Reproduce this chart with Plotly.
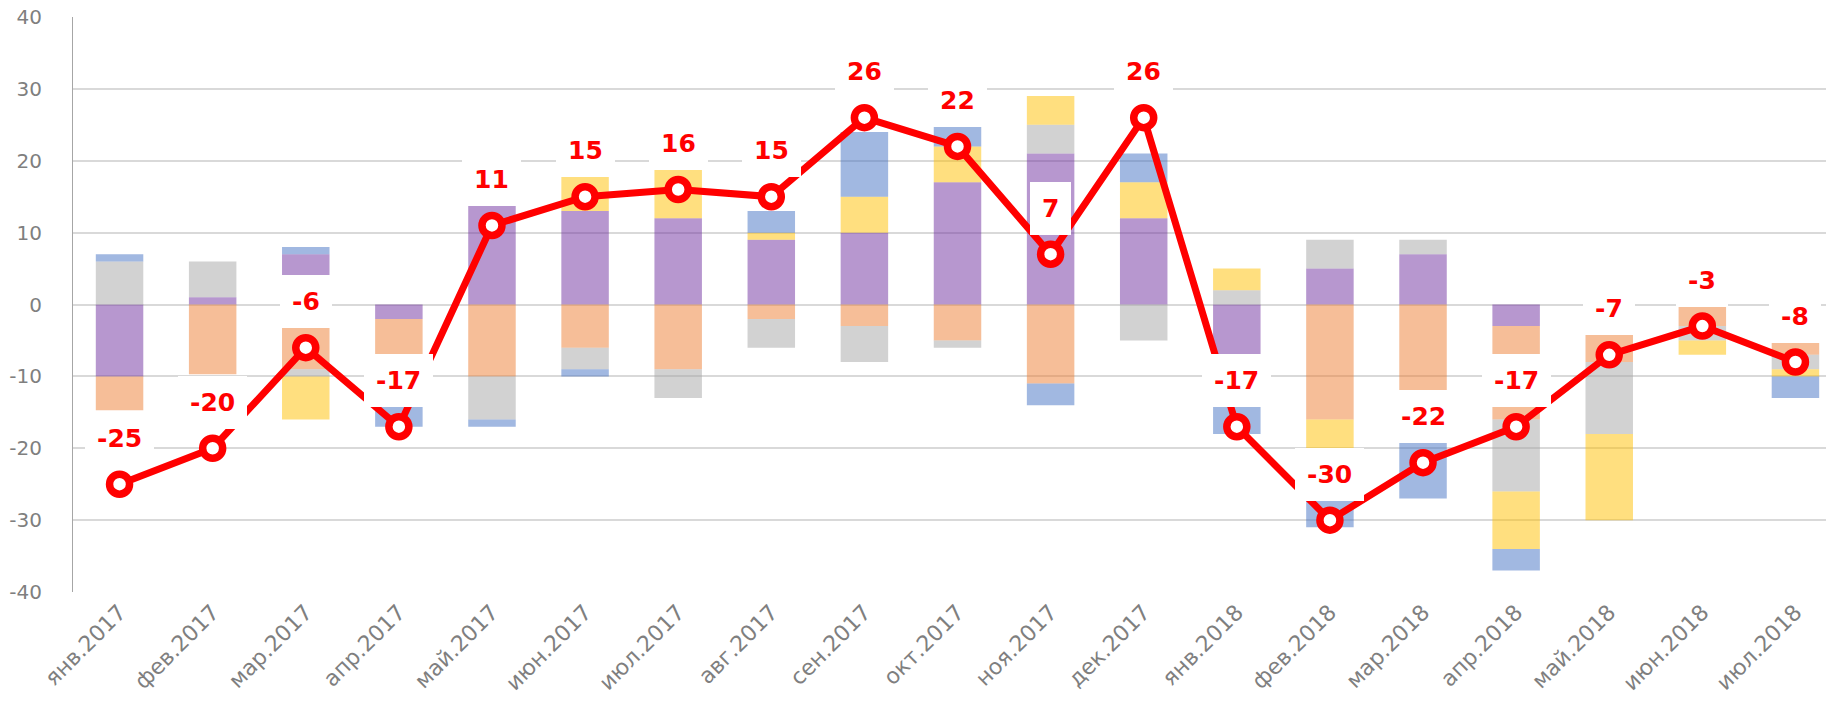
import plotly.graph_objects as go

# категории
months = ['янв.2017', 'фев.2017', 'мар.2017', 'апр.2017', 'май.2017', 'июн.2017',
          'июл.2017', 'авг.2017', 'сен.2017', 'окт.2017', 'ноя.2017', 'дек.2017',
          'янв.2018', 'фев.2018', 'мар.2018', 'апр.2018', 'май.2018', 'июн.2018',
          'июл.2018']

# составляющие (столбцы)
purple = [-10, 1, 7, -2, 14, 13, 12, 9, 10, 17, 21, 12, -8, 5, 7, -3, 0, 0, 1]
orange = [-4.7, -9.7, -9, -5, -10, -6, -9, -2, -3, -5, -11, 0, -6, -16, -12, -13, -8, -3, -7]
gray = [6, 5, -1, -7, -6, -3, -4, -4, -5, -1, 4, -5, 2, 4, 2, -10, -10, -2, -2]
yellow = [0, 0, -6, 0, 0, 5, 7, 1, 5, 5, 4, 5, 3, -6, 0, -8, -12, -2, -1]
blue = [1, 0, 1, -3, -1, -1, 0, 3, 9, 3, -3, 4, -4, -9, -15, -3, 0, 0, -3]

# итоговый индекс (линия)
total = [-25, -20, -6, -17, 11, 15, 16, 15, 26, 22, 7, 26, -17, -30, -22, -17, -7, -3, -8]

# деления оси Y
y_ticks = [-40, -30, -20, -10, 0, 10, 20, 30, 40]
y_labels = ['-40', '-30', '-20', '-10', '0', '10', '20', '30', '40']

fig = go.Figure()

series = [
    ('purple', purple, 'rgba(112,48,160,0.5)'),
    ('orange', orange, 'rgba(237,125,49,0.5)'),
    ('gray', gray, 'rgba(165,165,165,0.5)'),
    ('yellow', yellow, 'rgba(255,192,0,0.5)'),
    ('blue', blue, 'rgba(68,114,196,0.5)'),
]
for name, vals, color in series:
    fig.add_trace(go.Bar(
        x=months, y=vals, name=name,
        marker=dict(color=color, line=dict(width=0)),
        showlegend=False,
    ))

fig.add_trace(go.Scatter(
    x=months, y=total, mode='lines+markers',
    line=dict(color='#ff0000', width=7),
    marker=dict(size=20, color='white', line=dict(color='#ff0000', width=7.5)),
    showlegend=False,
))

# подписи значений на белом фоне
for m, v in zip(months, total):
    fig.add_annotation(
        x=m, y=v, text='<b>%d</b>' % v, showarrow=False,
        yshift=46, yanchor='middle', valign='middle',
        font=dict(family='DejaVu Sans', size=25, color='#ff0000'),
        bgcolor='white', borderpad=12, borderwidth=0,
    )

fig.update_layout(
    width=1834, height=707,
    margin=dict(l=65, r=0, t=9, b=123),
    plot_bgcolor='white', paper_bgcolor='white',
    barmode='relative', bargap=0.49,
    font=dict(family='DejaVu Sans', color='#7f7f7f'),
)
fig.update_xaxes(
    type='category', range=[-0.5, 18.5], automargin=False,
    tickangle=-45, tickfont=dict(size=22, color='#7f7f7f'),
    showgrid=False, showline=False, ticks='', ticklabelstandoff=2,
)
fig.update_yaxes(
    range=[-40, 40], tickvals=y_ticks, ticktext=y_labels, automargin=False,
    ticklabeloverflow='allow',
    tickfont=dict(size=20, color='#7f7f7f'),
    showgrid=True, gridcolor='#d9d9d9', gridwidth=1.5,
    zeroline=True, zerolinecolor='#d9d9d9', zerolinewidth=1.5,
    showline=True, linecolor='#a6a6a6', linewidth=1,
    ticks='', ticklabelstandoff=26,
)

fig.write_html('out.html')
